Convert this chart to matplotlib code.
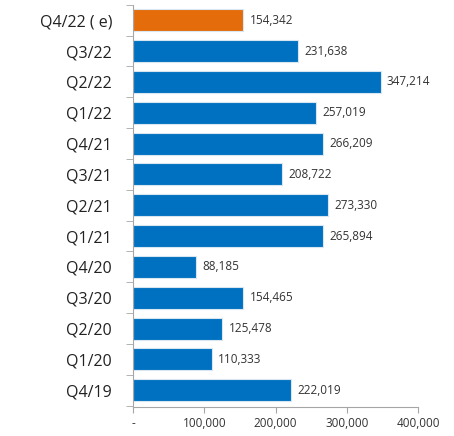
import matplotlib.pyplot as plt
from matplotlib.ticker import FuncFormatter

quarters = ["Q4/19", "Q1/20", "Q2/20", "Q3/20", "Q4/20", "Q1/21", "Q2/21",
            "Q3/21", "Q4/21", "Q1/22", "Q2/22", "Q3/22", "Q4/22 ( e)"]
values = [222019, 110333, 125478, 154465, 88185, 265894, 273330,
          208722, 266209, 257019, 347214, 231638, 154342]
colors = ["#0070C0"] * 12 + ["#E46C0A"]

plt.rcParams['font.family'] = ['Open Sans', 'DejaVu Sans']

fig = plt.figure(figsize=(4.54, 4.36), dpi=100)
ax = fig.add_axes([0.293, 0.066, 0.628, 0.923])

pos = list(range(len(quarters)))
ax.barh(pos, values, height=0.71, color=colors, edgecolor="#d8e6f2", linewidth=0.8)

for p, v in zip(pos, values):
    ax.text(v + 9000, p, f"{v:,}", va="center", ha="left", fontsize=8.5, color="#333333")

ax.set_xlim(0, 400000)
ax.set_ylim(-0.55, 12.5)
ax.set_xticks([0, 100000, 200000, 300000, 400000])
ax.xaxis.set_major_formatter(FuncFormatter(lambda x, _: "-" if x == 0 else f"{int(x):,}"))
ax.set_yticks(pos)
ax.set_yticklabels(quarters, fontsize=11.5, color="#222222")
ax.set_yticks([p - 0.5 for p in pos] + [12.5], minor=True)
ax.tick_params(axis="y", which="major", length=0, pad=15)
ax.tick_params(axis="y", which="minor", length=5, color="#a6a6a6")
ax.tick_params(axis="x", length=4, color="#a6a6a6", labelsize=8.5, labelcolor="#333333", pad=3)

for s in ["top", "right"]:
    ax.spines[s].set_visible(False)
for s in ["left", "bottom"]:
    ax.spines[s].set_color("#a6a6a6")

fig.savefig("out.png", dpi=100)
